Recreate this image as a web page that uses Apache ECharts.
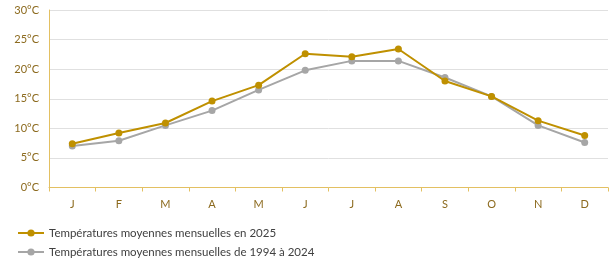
<!DOCTYPE html>
<html><head><meta charset="utf-8">
<script src="https://cdn.jsdelivr.net/npm/echarts@6/dist/echarts.min.js"></script>
<style>html,body{margin:0;padding:0;background:#fff}#c{width:616px;height:261px}</style>
</head><body><div id="c"></div>
<script>
const months = ['J','F','M','A','M','J','J','A','S','O','N','D'];
const temps2025 = [7.4, 9.2, 10.9, 14.6, 17.3, 22.6, 22.1, 23.4, 18.0, 15.4, 11.3, 8.8];
const normals = [7.0, 7.9, 10.5, 13.0, 16.5, 19.8, 21.4, 21.4, 18.6, 15.4, 10.5, 7.6];
const name2025 = 'Températures moyennes mensuelles en 2025';
const nameNormals = 'Températures moyennes mensuelles de 1994 à 2024';
const font = 'Lato, "Open Sans", sans-serif';
const chart = echarts.init(document.getElementById('c'));
chart.setOption({
  animation: false,
  textStyle: {fontFamily: font},
  grid: {left: 49, right: 8, top: 10, bottom: 73.5},
  legend: {
    orient: 'vertical', left: 17, top: 226, itemGap: 5, padding: 0,
    itemWidth: 26, itemHeight: 9,
    textStyle: {fontFamily: font, fontSize: 11.5, lineHeight: 14, color: '#404040'},
    data: [name2025, nameNormals]
  },
  xAxis: {
    type: 'category', data: months, boundaryGap: true,
    axisLine: {lineStyle: {color: '#E3C062', width: 1}},
    axisTick: {show: true, length: 4, lineStyle: {color: '#E3C062'}},
    axisLabel: {color: '#8C6A1E', fontSize: 11, margin: 11, fontFamily: font}
  },
  yAxis: {
    type: 'value', min: 0, max: 30, interval: 5,
    axisLine: {show: true, lineStyle: {color: '#E3C062'}},
    axisTick: {show: false},
    splitLine: {lineStyle: {color: '#E0E0E0'}},
    axisLabel: {color: '#8C6A1E', fontSize: 11, margin: 10, formatter: '{value}°C', fontFamily: font}
  },
  series: [
    {name: nameNormals, type: 'line', data: normals, z: 2,
     symbol: 'circle', symbolSize: 7,
     lineStyle: {color: '#A6A6A6', width: 2},
     itemStyle: {color: '#A6A6A6'}},
    {name: name2025, type: 'line', data: temps2025, z: 3,
     symbol: 'circle', symbolSize: 7,
     lineStyle: {color: '#BF9000', width: 2},
     itemStyle: {color: '#BF9000'}}
  ]
});
</script></body></html>
